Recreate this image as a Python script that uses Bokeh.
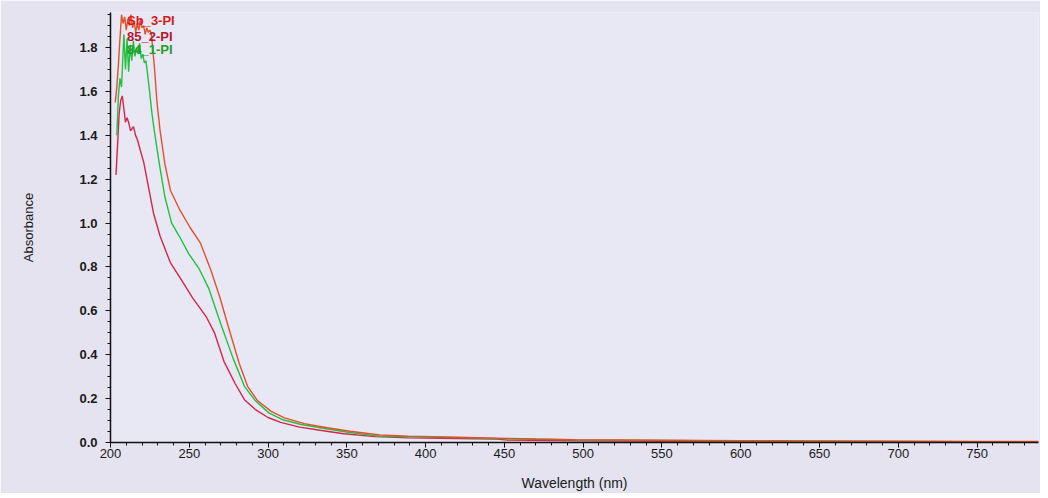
from bokeh.plotting import figure
from bokeh.models import Range1d, Label, SingleIntervalTicker, PrintfTickFormatter
from bokeh.embed import file_html
from bokeh.resources import INLINE

# ---- data ----
series_names = ["Sb_3-PI", "85_2-PI", "84_1-PI"]

wl_sb3 = [203, 204, 205, 206, 207, 208, 209, 210, 211, 212, 213, 214,
          215, 216, 217, 218, 219, 220, 221, 222, 223, 224, 225, 226,
          228, 229.5, 231.5, 234.5, 238, 244, 250.5, 257, 263.5, 269.5, 274.7, 278, 281.7,
          287, 293.4, 302, 310.4, 323, 337.6, 352, 371, 389, 420, 445, 470, 495, 550, 600, 650,
          700, 750, 789]
abs_sb3 = [1.55, 1.62, 1.72, 1.84, 1.95, 1.91, 1.94, 1.88, 1.93, 1.90, 1.95, 1.89,
           1.92, 1.87, 1.91, 1.88, 1.93, 1.89, 1.90, 1.86, 1.89, 1.87, 1.88, 1.86,
           1.70, 1.55, 1.42, 1.27, 1.15, 1.06, 0.98, 0.91, 0.79, 0.66, 0.53, 0.45, 0.36,
           0.256, 0.19, 0.142, 0.112, 0.086, 0.067, 0.051, 0.034, 0.029, 0.024, 0.020, 0.016,
           0.013, 0.010, 0.008, 0.007, 0.006, 0.005, 0.005]

wl_85 = [203.5, 204.5, 205.5, 206.5, 207.5, 208.5, 209.5, 210.5, 211.5, 212.7, 213.6, 214.6,
         215.9, 217.1, 219, 221, 224.5, 227.3, 231.5, 238, 246, 252, 261, 266, 272, 279, 285,
         292, 300, 308, 320, 334, 348, 368, 389, 420, 445, 452, 495, 550, 600, 650, 700, 750, 789]
abs_85 = [1.22, 1.36, 1.50, 1.56, 1.58, 1.52, 1.46, 1.48, 1.46, 1.42, 1.43, 1.44,
          1.40, 1.38, 1.33, 1.28, 1.15, 1.045, 0.94, 0.82, 0.73, 0.66, 0.57, 0.50, 0.37, 0.27,
          0.195, 0.15, 0.114, 0.092, 0.07, 0.055, 0.04, 0.027, 0.021, 0.018, 0.016, 0.011,
          0.008, 0.006, 0.005, 0.004, 0.003, 0.003, 0.003]

wl_84 = [204, 205, 206, 207, 208, 208.5, 209.5, 210.5, 211.5, 212.5, 213.5, 214.5, 215.5,
         216.5, 217.5, 218.5, 219.5, 220.5, 221.5, 222.5, 223.5, 224.5, 226.3, 227.8, 231,
         234.5, 238.8, 243.7, 249.7, 256.4, 262.5, 270, 278, 285, 292, 300.5, 308.8, 321, 336,
         350.6, 371.5, 389, 420, 445, 470, 495, 550, 600, 650, 700, 750, 789]
abs_84 = [1.40, 1.58, 1.66, 1.62, 1.78, 1.86, 1.70, 1.84, 1.69, 1.81, 1.74, 1.83, 1.76,
          1.80, 1.77, 1.82, 1.75, 1.77, 1.73, 1.74, 1.68, 1.62, 1.50, 1.42, 1.27,
          1.12, 1.00, 0.94, 0.86, 0.79, 0.70, 0.54, 0.38, 0.256, 0.19, 0.135, 0.105, 0.082,
          0.064, 0.047, 0.028, 0.026, 0.022, 0.018, 0.015, 0.012, 0.009, 0.007, 0.006, 0.005,
          0.004, 0.004]

# ---- figure ----
FONT = "Liberation Sans"
p = figure(frame_width=928, frame_height=430,
           x_range=Range1d(200, 789), y_range=Range1d(0, 1.96),
           output_backend="svg", toolbar_location=None,
           min_border_left=110, min_border_right=2, min_border_top=12, min_border_bottom=40,
           background_fill_color="#e8e7f4", border_fill_color="#e4e3ef")
p.outline_line_color = None
p.xgrid.visible = False
p.ygrid.visible = False

p.line(wl_85, abs_85, line_color="#d8234c", line_width=1.4)
p.line(wl_84, abs_84, line_color="#22c040", line_width=1.4)
p.line(wl_sb3, abs_sb3, line_color="#e2502a", line_width=1.4)

# axes
p.xaxis.ticker = SingleIntervalTicker(interval=50, num_minor_ticks=5)
p.yaxis.ticker = SingleIntervalTicker(interval=0.2, num_minor_ticks=4)
p.yaxis.formatter = PrintfTickFormatter(format="%.1f")
for ax in (p.xaxis[0], p.yaxis[0]):
    ax.axis_line_color = "#111111"
    ax.axis_line_width = 1.5
    ax.major_tick_line_color = "#111111"
    ax.minor_tick_line_color = "#111111"
    ax.major_tick_in = 0
    ax.major_tick_out = 5
    ax.minor_tick_in = 0
    ax.minor_tick_out = 3
    ax.major_label_text_font = FONT
    ax.major_label_text_font_size = "13px"
    ax.major_label_text_color = "#1a1a1a"
    ax.axis_label_text_font = FONT
    ax.axis_label_text_font_style = "normal"
    ax.axis_label_text_color = "#1a1a1a"

p.yaxis.major_label_text_font_style = "bold"
p.yaxis.major_label_standoff = 8
p.yaxis.axis_label = "Absorbance"
p.yaxis.axis_label_text_font_size = "13px"
p.yaxis.axis_label_standoff = 40

p.xaxis.major_label_standoff = 1
p.xaxis.axis_label = "Wavelength (nm)"
p.xaxis.axis_label_text_font_size = "14px"
p.xaxis.axis_label_standoff = 14

# legend-like coloured labels
label_colors = ["#d41c1c", "#b0182e", "#1f9e2a"]
label_y = [1.923, 1.85, 1.79]
for name, col, yy in zip(series_names, label_colors, label_y):
    p.add_layout(Label(x=210.5, y=yy, text=name, text_color=col, text_font=FONT,
                       text_font_size="13px", text_font_style="bold",
                       text_baseline="middle"))

open("out.html", "w").write(file_html(p, INLINE))
